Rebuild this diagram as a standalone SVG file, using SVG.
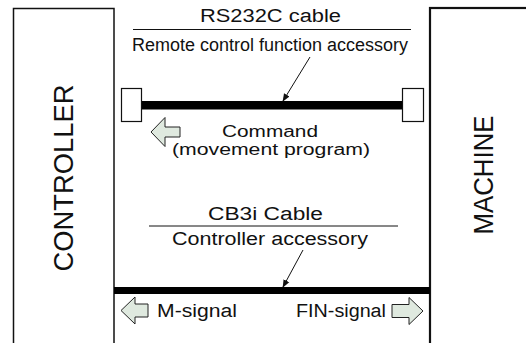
<svg xmlns="http://www.w3.org/2000/svg" width="526" height="343" viewBox="0 0 526 343">
  <style>
    text { font-family: "Liberation Sans", Arial, sans-serif; fill: #111; }
    .lbl { font-size: 18px; }
    .cmd { font-size: 16px; }
    .big { font-size: 27px; }
    .box { fill: #fff; stroke: #111; }
    .rule { stroke: #111; stroke-width: 1; }
    .ptr { stroke: #111; stroke-width: 1; fill: none; marker-end: url(#tip); }
    .cable { fill: #000; }
    .plug { fill: #fff; stroke: #111; stroke-width: 1.2; }
    .flow { fill: #dfe9df; stroke: #222; stroke-width: 1; stroke-linejoin: miter; }
  </style>
  <defs>
    <marker id="tip" viewBox="0 0 10 10" refX="9" refY="5" markerWidth="8" markerHeight="8" markerUnits="userSpaceOnUse" orient="auto">
      <path d="M0,1 L10,5 L0,9 Z" fill="#111"/>
    </marker>
  </defs>

  <rect width="526" height="343" fill="#fff"/>

  <g id="controller">
    <rect class="box" x="13.5" y="8.5" width="100.5" height="345" stroke-width="1.5"/>
    <text class="big" transform="translate(73,178) rotate(-90)" text-anchor="middle" textLength="187" lengthAdjust="spacingAndGlyphs">CONTROLLER</text>
  </g>

  <g id="machine">
    <rect class="box" x="430" y="8" width="110" height="345" stroke-width="2.2"/>
    <text class="big" transform="translate(493,175) rotate(-90)" text-anchor="middle" textLength="119" lengthAdjust="spacingAndGlyphs">MACHINE</text>
  </g>

  <g id="rs232c-cable">
    <text class="lbl" x="270.5" y="21.5" text-anchor="middle" textLength="141" lengthAdjust="spacingAndGlyphs">RS232C cable</text>
    <line class="rule" x1="133" y1="29.5" x2="411" y2="29.5"/>
    <text class="lbl" x="270" y="51" text-anchor="middle" textLength="276" lengthAdjust="spacingAndGlyphs">Remote control function accessory</text>
    <rect class="cable" x="141" y="101" width="262" height="8.5"/>
    <rect class="plug" x="121.5" y="88.5" width="20" height="33"/>
    <rect class="plug" x="402.5" y="88.5" width="21" height="33"/>
  </g>

  <g id="command">
    <path class="flow" d="M151,132 L165,117.5 L165,127 L180,127 L180,137 L165,137 L165,146.5 Z"/>
    <text class="cmd" x="270" y="137" text-anchor="middle" textLength="96" lengthAdjust="spacingAndGlyphs">Command</text>
    <text class="cmd" x="271" y="155" text-anchor="middle" textLength="198" lengthAdjust="spacingAndGlyphs">(movement program)</text>
  </g>

  <g id="cb3i-cable">
    <text class="lbl" x="265.5" y="220" text-anchor="middle" textLength="115" lengthAdjust="spacingAndGlyphs">CB3i Cable</text>
    <line class="rule" x1="149" y1="226" x2="398" y2="226"/>
    <text class="lbl" x="270" y="245" text-anchor="middle" textLength="196" lengthAdjust="spacingAndGlyphs">Controller accessory</text>
    <rect class="cable" x="114" y="287" width="316" height="7"/>
  </g>

  <g id="m-signal">
    <path class="flow" d="M121,310.5 L135,297 L135,304 L148,304 L148,317 L135,317 L135,324 Z"/>
    <text class="lbl" x="157" y="317" textLength="80" lengthAdjust="spacingAndGlyphs">M-signal</text>
  </g>

  <g id="fin-signal">
    <text class="lbl" x="296" y="317" textLength="90" lengthAdjust="spacingAndGlyphs">FIN-signal</text>
    <path class="flow" d="M423,311 L409,297.5 L409,304.5 L392,304.5 L392,317.5 L409,317.5 L409,324.5 Z"/>
  </g>

  <g id="connectors">
    <line class="ptr" x1="310" y1="57" x2="283" y2="101"/>
    <line class="ptr" x1="303" y1="250" x2="283" y2="287"/>
  </g>
</svg>
